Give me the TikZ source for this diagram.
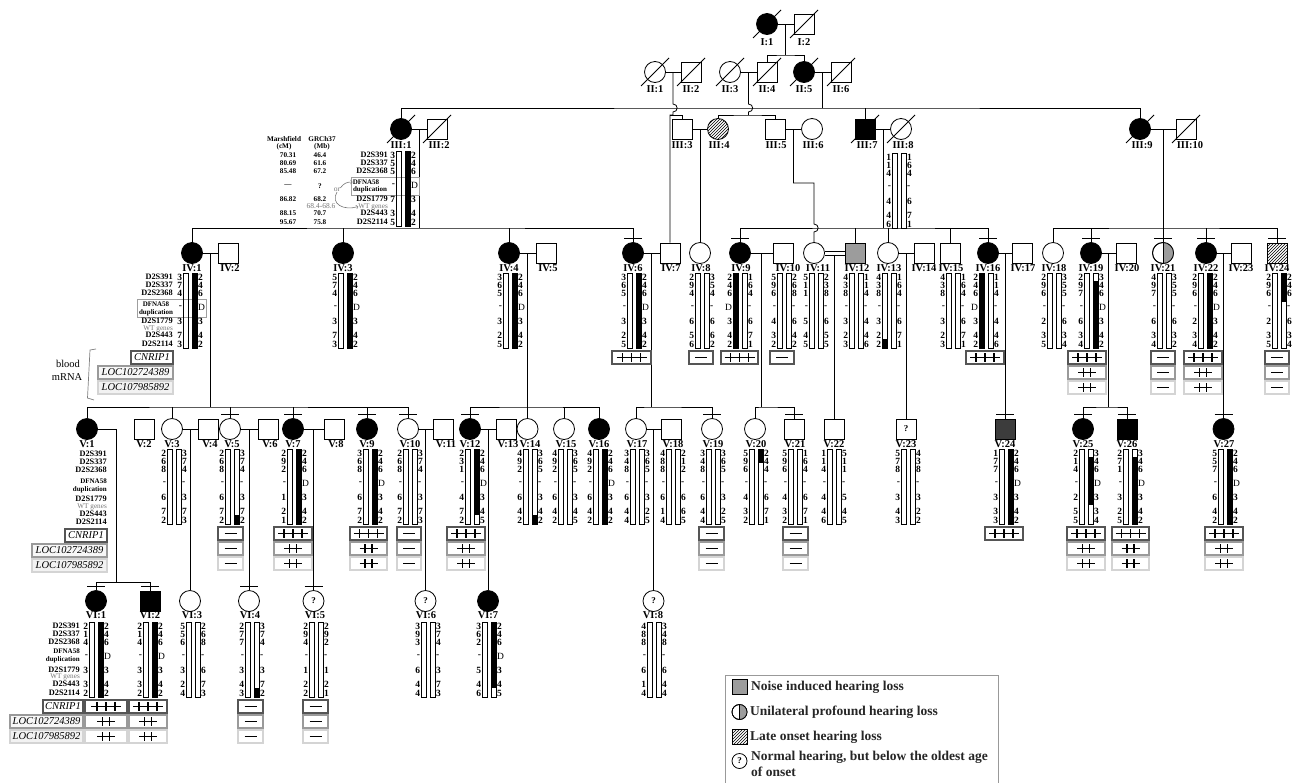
\documentclass[tikz,border=0pt]{standalone}
\usepackage{fontspec}
\setmainfont{Liberation Serif}
\usetikzlibrary{patterns,calc}
\definecolor{bxA}{HTML}{555555}
\definecolor{bxB}{HTML}{9A9A9A}
\definecolor{bxC}{HTML}{D4D4D4}
\definecolor{noisegray}{HTML}{9C9C9C}
\definecolor{darkaff}{HTML}{3C3C3C}
\definecolor{txtgray}{HTML}{777777}
\newcommand{\rowoff}[1]{\ifcase#1\or4\or12\or20\or34\or48\or62\or71\fi}
\newcommand{\Dd}{\textmd{D}}
\newcommand{\hap}[6]{%
  \foreach \a/\b in {#5}{\fill (#1,#2+\a) rectangle (#1+5,#2+\b);}%
  \foreach \a/\b in {#6}{\fill (#1+9,#2+\a) rectangle (#1+14,#2+\b);}%
  \draw[hbar] (#1,#2) rectangle (#1+5,#2+75);%
  \draw[hbar] (#1+9,#2) rectangle (#1+14,#2+75);%
  \foreach \v [count=\i] in {#3}{\edef\ro{\rowoff{\i}}\pgfmathsetmacro\yy{#2+\ro}\node[numL] (hl#1x\i) at (#1-0.8,\yy) {\v};}%
  \foreach \v [count=\i] in {#4}{\edef\ro{\rowoff{\i}}\pgfmathsetmacro\yy{#2+\ro}\node[numR] (hr#1x\i) at (#1+14.8,\yy) {\v};}%
}
\newcommand{\sgn}[3]{%
  \ifcase#1\relax
    \draw[sg] (#2-6,#3) -- (#2+6,#3);%
  \or\or
    \draw[sg] (#2-9,#3) -- (#2+9,#3) (#2-3.5,#3-4.5) -- (#2-3.5,#3+4.5) (#2+3.5,#3-4.5) -- (#2+3.5,#3+4.5);%
  \or
    \draw[sg] (#2-15,#3) -- (#2+15,#3) (#2-9,#3-4.5) -- (#2-9,#3+4.5) (#2,#3-4.5) -- (#2,#3+4.5) (#2+9,#3-4.5) -- (#2+9,#3+4.5);%
  \fi}
\newcommand{\tbx}[5]{%
  \draw[#1] (#2,#4) rectangle (#3,#4+13);%
  \pgfmathsetmacro\cx{(#2+#3)/2}\pgfmathsetmacro\cy{#4+6.5}%
  \sgn{#5}{\cx}{\cy}}
\newcommand{\tri}[6]{\tbx{bA}{#1}{#2}{#3}{#4}\tbx{bB}{#1}{#2}{#3+15}{#5}\tbx{bC}{#1}{#2}{#3+30}{#6}}
\newcommand{\dead}[1]{\draw[ln] ([shift={(-14pt,-14pt)}]#1.center) -- ([shift={(14pt,14pt)}]#1.center);}
\newcommand{\tbar}[1]{\draw[ln] ([shift={(-9pt,4pt)}]#1.north) -- ([shift={(9pt,4pt)}]#1.north);}
\begin{document}
\begin{tikzpicture}[x=1pt,y=-1pt,
  ln/.style={line width=0.8pt},
  male/.style={draw, rectangle, minimum size=20pt, inner sep=0pt, line width=0.8pt},
  fem/.style={draw, circle, minimum size=21pt, inner sep=0pt, line width=0.8pt},
  aff/.style={fill=black},
  hatch/.style={pattern=north east lines},
  lab/.style={inner sep=0pt, font=\bfseries\fontsize{10.5}{10.5}\selectfont},
  numL/.style={anchor=east, inner sep=0pt, font=\bfseries\fontsize{9.5}{9.5}\selectfont},
  numR/.style={anchor=west, inner sep=0pt, font=\bfseries\fontsize{9.5}{9.5}\selectfont},
  mk/.style={anchor=east, inner sep=0pt, font=\bfseries\fontsize{8.3}{8.3}\selectfont},
  mks/.style={inner sep=0pt, font=\bfseries\fontsize{7}{7}\selectfont},
  wt/.style={anchor=east, inner sep=0pt, text=txtgray, font=\fontsize{7.2}{7.2}\selectfont},
  cmt/.style={inner sep=0pt, font=\bfseries\fontsize{7.2}{7.2}\selectfont},
  hbar/.style={draw, line width=0.6pt},
  bA/.style={draw=bxA, line width=1.6pt},
  bB/.style={draw=bxB, line width=1.6pt},
  bC/.style={draw=bxC, line width=1.6pt},
  sg/.style={line width=1.1pt},
  gA/.style={draw=bxA, line width=1.5pt},
  gB/.style={draw=bxB, line width=1.5pt, fill=gray!6},
  gC/.style={draw=bxC, line width=1.5pt, fill=gray!10},
  gt/.style={inner sep=0pt, font=\itshape\fontsize{10.5}{10.5}\selectfont},
  qm/.style={font=\bfseries\fontsize{9}{9}\selectfont},
  lgt/.style={anchor=west, inner sep=0pt, text=black!85, font=\bfseries\fontsize{13.5}{15.5}\selectfont},
  dupbox/.style={draw=gray!75, line width=0.8pt}
]
\useasboundingbox (0,0) rectangle (1292,782);
\fill[white] (0,0) rectangle (1292,782);

% ---------------- Generation I
\node[fem,aff] (I1) at (767,24) {};
\node[male] (I2) at (804,24) {};
\dead{I1}\dead{I2}
\node[lab] (lI1) at (767,42) {I:1};
\node[lab] (lI2) at (804,42) {I:2};

% ---------------- Generation II
\node[fem] (II1) at (655,72) {};
\node[male] (II2) at (691,72) {};
\node[fem] (II3) at (730,72) {};
\node[male] (II4) at (767,72) {};
\node[fem,aff] (II5) at (804,72) {};
\node[male] (II6) at (841,72) {};
\foreach \n in {II1,II2,II3,II4,II5,II6} {\dead{\n}}
\node[lab] (lII1) at (655,89) {II:1};
\node[lab] (lII2) at (691,89) {II:2};
\node[lab] (lII3) at (730,89) {II:3};
\node[lab] (lII4) at (767,89) {II:4};
\node[lab] (lII5) at (804,89) {II:5};
\node[lab] (lII6) at (841,89) {II:6};

% ---------------- Generation III
\node[fem,aff] (III1) at (401,129) {};
\node[male] (III2) at (437,129) {};
\node[male] (III3) at (682,129) {};
\node[fem,hatch] (III4) at (718,129) {};
\node[male] (III5) at (775,129) {};
\node[fem] (III6) at (812,129) {};
\node[male,aff] (III7) at (865,129) {};
\node[fem] (III8) at (901,129) {};
\node[fem,aff] (III9) at (1140,129) {};
\node[male] (III10) at (1186,129) {};
\foreach \n in {III1,III2,III7,III8,III9,III10} {\dead{\n}}
\node[lab] (lIII1) at (401,145) {III:1};
\node[lab] (lIII2) at (439,145) {III:2};
\node[lab] (lIII3) at (682,145) {III:3};
\node[lab] (lIII4) at (719,145) {III:4};
\node[lab] (lIII5) at (776,145) {III:5};
\node[lab] (lIII6) at (813,145) {III:6};
\node[lab] (lIII7) at (867,145) {III:7};
\node[lab] (lIII8) at (903,145) {III:8};
\node[lab] (lIII9) at (1142,145) {III:9};
\node[lab] (lIII10) at (1190,145) {III:10};

% ---------------- Generation IV
\node[fem,aff] (IV1) at (192,253) {};
\node[male] (IV2) at (228,253) {};
\node[fem,aff] (IV3) at (343,253) {};
\node[fem,aff] (IV4) at (509,253) {};
\node[male] (IV5) at (546,253) {};
\node[fem,aff] (IV6) at (633,253) {};
\node[male] (IV7) at (670,253) {};
\node[fem] (IV8) at (700,253) {};
\node[fem,aff] (IV9) at (740,253) {};
\node[male] (IV10) at (783,253) {};
\node[fem] (IV11) at (814,253) {};
\node[male,fill=noisegray] (IV12) at (855,253) {};
\node[fem] (IV13) at (888,253) {};
\node[male] (IV14) at (924,253) {};
\node[male] (IV15) at (950,253) {};
\node[fem,aff] (IV16) at (988,253) {};
\node[male] (IV17) at (1022,253) {};
\node[fem] (IV18) at (1053,253) {};
\node[fem,aff] (IV19) at (1091,253) {};
\node[male] (IV20) at (1126,253) {};
\node[fem] (IV21) at (1163,253) {};
\node[fem,aff] (IV22) at (1206,253) {};
\node[male] (IV23) at (1241,253) {};
\node[male,hatch] (IV24) at (1277,253) {};
\begin{scope}
  \clip (IV21.north) rectangle ([xshift=12pt]IV21.south);
  \fill[noisegray] (IV21.center) circle (10.5pt);
\end{scope}
\draw[line width=0.8pt] (IV21.center) circle (10.5pt);
\draw[ln] (IV21.north) -- (IV21.south);
\foreach \n/\x/\t in {IV1/192/IV:1,IV2/230/IV:2,IV3/343/IV:3,IV4/509/IV:4,IV5/548/IV:5,IV6/633/IV:6,IV7/671/IV:7,IV8/701/IV:8,IV9/741/IV:9,IV10/788/IV:10,IV11/818/IV:11,IV12/857/IV:12,IV13/889/IV:13,IV14/924/IV:14,IV15/951/IV:15,IV16/988/IV:16,IV17/1023/IV:17,IV18/1054/IV:18,IV19/1091/IV:19,IV20/1127/IV:20,IV21/1163/IV:21,IV22/1206/IV:22,IV23/1241/IV:23,IV24/1277/IV:24}
  {\node[lab] (l\n) at (\x,268) {\t};}

% ---------------- Generation V
\node[fem,aff] (V1) at (87,429) {};
\node[male] (V2) at (144,429) {};
\node[fem] (V3) at (172,429) {};
\node[male] (V4) at (208,429) {};
\node[fem] (V5) at (230,429) {};
\node[male] (V6) at (268,429) {};
\node[fem,aff] (V7) at (293,429) {};
\node[male] (V8) at (334,429) {};
\node[fem,aff] (V9) at (367,429) {};
\node[fem] (V10) at (408,429) {};
\node[male] (V11) at (443,429) {};
\node[fem,aff] (V12) at (470,429) {};
\node[male] (V13) at (506,429) {};
\node[fem] (V14) at (527.5,429) {};
\node[fem] (V15) at (564,429) {};
\node[fem,aff] (V16) at (599,429) {};
\node[fem] (V17) at (636,429) {};
\node[male] (V18) at (671,429) {};
\node[fem] (V19) at (712,429) {};
\node[fem] (V20) at (755,429) {};
\node[male] (V21) at (794,429) {};
\node[male] (V22) at (834.5,429) {};
\node[male,qm] (V23) at (906,429) {?};
\node[male,fill=darkaff] (V24) at (1005,429) {};
\node[fem,aff] (V25) at (1083,429) {};
\node[male,aff] (V26) at (1127,429) {};
\node[fem,aff] (V27) at (1223.5,429) {};
\foreach \n/\x/\t in {V1/87/V:1,V2/144/V:2,V3/172/V:3,V4/210/V:4,V5/232/V:5,V6/270/V:6,V7/293/V:7,V8/336/V:8,V9/367/V:9,V10/410/V:10,V11/446/V:11,V12/470/V:12,V13/508/V:13,V14/530/V:14,V15/566/V:15,V16/599/V:16,V17/637/V:17,V18/673/V:18,V19/713/V:19,V20/756/V:20,V21/795/V:21,V22/834/V:22,V23/906/V:23,V24/1005/V:24,V25/1083/V:25,V26/1127/V:26,V27/1224/V:27}
  {\node[lab] (l\n) at (\x,444) {\t};}

% ---------------- Generation VI
\node[fem,aff] (VI1) at (96,601) {};
\node[male,aff] (VI2) at (150,601) {};
\node[fem] (VI3) at (190,601) {};
\node[fem] (VI4) at (249,601) {};
\node[fem,qm] (VI5) at (313.5,601) {?};
\node[fem,qm] (VI6) at (425.5,601) {?};
\node[fem,aff] (VI7) at (488,601) {};
\node[fem,qm] (VI8) at (653.5,601) {?};
\foreach \n/\x/\t in {VI1/96/VI:1,VI2/150/VI:2,VI3/192/VI:3,VI4/250/VI:4,VI5/315/VI:5,VI6/426/VI:6,VI7/488/VI:7,VI8/653/VI:8}
  {\node[lab] (l\n) at (\x,615) {\t};}

% ---------------- examined bars
\foreach \n in {IV6,IV9,IV16,IV19,IV21,IV22,IV24,V5,V7,V9,V10,V12,V19,V21,V24,V25,V26,V27,VI1,VI2,VI4,VI5} {\tbar{\n}}

% ---------------- Connectors
\coordinate (sIII) at (0,108);
\coordinate (sIIIb) at (0,115);
\coordinate (sIV) at (0,228);
\coordinate (sV) at (0,407);
\coordinate (sVI) at (0,582);
% I
\draw[ln] (I1) -- (I2);
\coordinate (mI) at ($(I1)!0.5!(I2)$);
\draw[ln] (mI) -- ++(0,31) coordinate (sII);
\draw[ln] (II4.north) |- (sII) -| (II5.north);
% II
\draw[ln] (II1) -- (II2);
\draw[ln] (II3) -- (II4);
\draw[ln] (II5) -- (II6);
\coordinate (mII12) at ($(II1)!0.5!(II2)$);
\coordinate (mII34) at ($(II3)!0.5!(II4)$);
\coordinate (mII56) at ($(II5)!0.5!(II6)$);
\coordinate (kII12) at (670,115);
\draw[ln] (mII56) -- (mII56 |- sIII);
\draw[ln] (III1.north) |- (mII56 |- sIII) -| (III9.north);
\draw[ln] (III7.north) -- (III7.north |- sIII);
\draw[ln] (mII12) -- ($(mII12 |- sIII)+(0,-4)$) .. controls +(5.5,0) and +(5.5,0) .. ($(mII12 |- sIII)+(0,4)$) -- (mII12 |- kII12) -- (kII12) -- (kII12 |- IV7.north);
\draw[ln] (kII12) -| (III3.north);
\draw[ln] (mII34) -- ($(mII34 |- sIII)+(0,-4)$) .. controls +(5.5,0) and +(5.5,0) .. ($(mII34 |- sIII)+(0,4)$) -- (mII34 |- sIIIb);
\draw[ln] (III4.north) |- (mII34 |- sIIIb) -| (III5.north);
% III
\draw[ln] (III1) -- (III2);
\draw[ln] (III3) -- (III4);
\draw[ln] (III5) -- (III6);
\draw[ln] (III7) -- (III8);
\draw[ln] (III9) -- (III10);
\coordinate (mIII12) at ($(III1)!0.5!(III2)$);
\coordinate (mIII34) at ($(III3)!0.5!(III4)$);
\coordinate (mIII56) at ($(III5)!0.5!(III6)$);
\coordinate (mIII78) at ($(III7)!0.5!(III8)$);
\coordinate (mIII910) at ($(III9)!0.5!(III10)$);
\draw[ln] (mIII12) -- (mIII12 |- sIV);
\draw[ln] (IV1.north) |- (mIII12 |- sIV) -| (IV6.north);
\foreach \n in {IV3,IV4} {\draw[ln] (\n.north) -- (\n.north |- sIV);}
\draw[ln] (mIII34) -- (mIII34 |- IV8.north);
\draw[ln] (mIII56) -- ++(0,54) coordinate (j56) -- (j56 -| IV11) -- ($(IV11 |- sIV)+(0,-4)$) .. controls +(5.5,0) and +(5.5,0) .. ($(IV11 |- sIV)+(0,4)$) -- (IV11.north);
\draw[ln] (mIII78) -- (mIII78 |- sIV);
\draw[ln] (IV9.north) |- (mIII78 |- sIV) -| (IV16.north);
\foreach \n in {IV12,IV13,IV15} {\draw[ln] (\n.north) -- (\n.north |- sIV);}
\draw[ln] (mIII910) -- (mIII910 |- sIV);
\draw[ln] (IV18.north) |- (mIII910 |- sIV) -| (IV24.north);
\foreach \n in {IV19,IV21,IV22} {\draw[ln] (\n.north) -- (\n.north |- sIV);}
% IV
\foreach \a/\b in {IV1/IV2,IV4/IV5,IV6/IV7,IV9/IV10,IV13/IV14,IV16/IV17,IV19/IV20,IV22/IV23} {\draw[ln] (\a) -- (\b);}
\draw[ln] ([yshift=2pt]IV11.east) -- ([yshift=2pt]IV12.west);
\draw[ln] ([yshift=-2pt]IV11.east) -- ([yshift=-2pt]IV12.west);
\coordinate (mIV12) at ($(IV1)!0.5!(IV2)$);
\coordinate (mIV45) at ($(IV4)!0.5!(IV5)$);
\coordinate (mIV67) at ($(IV6)!0.5!(IV7)$);
\coordinate (mIV910) at ($(IV9)!0.5!(IV10)$);
\coordinate (mIV1112) at ($(IV11)!0.5!(IV12)+(0,2)$);
\coordinate (mIV1314) at ($(IV13)!0.5!(IV14)$);
\coordinate (mIV1617) at ($(IV16)!0.5!(IV17)$);
\coordinate (mIV1920) at ($(IV19)!0.5!(IV20)$);
\coordinate (mIV2223) at ($(IV22)!0.5!(IV23)$);
\draw[ln] (mIV12) -- (mIV12 |- sV);
\draw[ln] (V1.north) |- (mIV12 |- sV) -| (V10.north);
\foreach \n in {V3,V5,V7,V9} {\draw[ln] (\n.north) -- (\n.north |- sV);}
\draw[ln] (mIV45) -- (mIV45 |- sV);
\draw[ln] (V12.north) |- (mIV45 |- sV) -| (V16.north);
\foreach \n in {V14,V15} {\draw[ln] (\n.north) -- (\n.north |- sV);}
\draw[ln] (mIV67) -- (mIV67 |- sV);
\draw[ln] (V17.north) |- (mIV67 |- sV) -| (V19.north);
\draw[ln] (mIV910) -- (mIV910 |- sV);
\draw[ln] (V20.north) |- (mIV910 |- sV) -| (V21.north);
\draw[ln] (mIV1112) -- (V22.north);
\draw[ln] (mIV1314) -- (V23.north);
\draw[ln] (mIV1617) -- (V24.north);
\draw[ln] (mIV1920) -- (mIV1920 |- sV);
\draw[ln] (V25.north) |- (mIV1920 |- sV) -| (V26.north);
\draw[ln] (mIV2223) -- (V27.north);
% V
\coordinate (jV1) at (116,429);
\draw[ln] (V1) -- (jV1) -- (jV1 |- sVI);
\draw[ln] (VI1.north) |- (jV1 |- sVI) -| (VI2.north);
\foreach \a/\b/\c in {V3/V4/VI3,V5/V6/VI4,V7/V8/VI5,V10/V11/VI6,V12/V13/VI7,V17/V18/VI8}
  {\draw[ln] (\a) -- (\b); \draw[ln] ($(\a)!0.5!(\b)$) -- (\c.north);}

% ---------------- III:1 marker panel
\node[cmt] (hcm1) at (284,139) {Marshfield};
\node[cmt] (hcm2) at (284,146.5) {(cM)};
\node[cmt] (hmb1) at (322,139) {GRCh37};
\node[cmt] (hmb2) at (322,146.5) {(Mb)};
\foreach \y/\c/\m [count=\k] in {155/70.31/46.4,163/80.69/61.6,171/85.48/67.2,186/---/?,199/86.82/68.2,213/88.15/70.7,222/95.67/75.8}
  {\node[cmt] (cmv\k) at (288,\y) {\c}; \node[cmt] (mbv\k) at (320,\y) {\m};}
\node[cmt,text=txtgray,font=\fontsize{7.5}{7.5}\selectfont] (mbr) at (321,206) {68.4-68.6};
\node[mk] (a1) at (388,155) {D2S391};
\node[mk] (a2) at (388,163) {D2S337};
\node[mk] (a3) at (388,171) {D2S2368};
\draw[dupbox] (351,177) rectangle (419,195);
\node[mks] (a4) at (366,182) {DFNA58};
\node[mks] (a5) at (370,190) {duplication};
\node[mk] (a6) at (388,199) {D2S1779};
\node[wt] (a7) at (388,206.5) {WT genes};
\node[mk] (a8) at (388,213) {D2S443};
\node[mk] (a9) at (388,222) {D2S2114};
\node[inner sep=0pt,text=txtgray,font=\fontsize{7.5}{7.5}\selectfont] (orr) at (337,190) {or};
\draw[txtgray,line width=0.6pt,->] (orr.north east) .. controls (344,183) and (347,182) .. (a4.west);
\draw[txtgray,line width=0.6pt,->] (orr.south) .. controls (330,204) and (344,211) .. (a7.west);
\hap{396}{151}{3,5,5,-,7,3,5}{2,4,6,\Dd,3,4,2}{0/0}{0/75}
\hap{892}{153}{1,1,4,-,4,4,6}{1,6,4,-,6,7,1}{0/0}{0/0}

% ---------------- IV:1 marker panel
\node[mk] (b1) at (173,277) {D2S391};
\node[mk] (b2) at (173,285) {D2S337};
\node[mk] (b3) at (173,293) {D2S2368};
\draw[dupbox] (137,299) rectangle (206,317);
\node[mks] (b4) at (156,304) {DFNA58};
\node[mks] (b5) at (156,312.5) {duplication};
\node[mk] (b6) at (173,321) {D2S1779};
\node[wt] (b7) at (173,328.5) {WT genes};
\node[mk] (b8) at (173,335) {D2S443};
\node[mk] (b9) at (173,344) {D2S2114};
\draw[gA] (131,351) rectangle (173,364); \node[gt] (g1a) at (152,357.5) {CNRIP1};
\draw[gB] (98,366) rectangle (173,379); \node[gt] (g1b) at (135.5,372.5) {LOC102724389};
\draw[gC] (98,381) rectangle (173,394); \node[gt] (g1c) at (135.5,387.5) {LOC107985892};
\draw[line width=0.7pt,gray] (96,349) -- (90,350) -- (87.5,398) -- (94,400);
\node[inner sep=0pt,font=\fontsize{10.5}{10.5}\selectfont] (blood) at (68,364) {blood};
\node[inner sep=0pt,font=\fontsize{10.5}{10.5}\selectfont] (mrna) at (67,377) {mRNA};

% ---------------- Gen IV haplotypes
\hap{183}{273}{3,7,4,-,3,7,3}{2,4,6,\Dd,3,4,2}{0/0}{0/75}
\hap{338}{273}{5,7,4,-,3,7,3}{2,4,6,\Dd,3,4,2}{0/0}{0/75}
\hap{503}{273}{3,6,5,-,3,2,5}{2,4,6,\Dd,3,4,2}{0/0}{0/75}
\hap{627}{273}{3,6,5,-,3,2,5}{2,4,6,\Dd,3,4,2}{0/0}{0/75}
\hap{695}{273}{2,9,4,-,6,5,6}{3,5,4,-,6,6,2}{0/0}{0/0}
\hap{733}{273}{2,4,6,\Dd,3,4,2}{1,6,4,-,6,7,1}{0/75}{0/0}
\hap{777}{273}{5,9,6,-,4,3,2}{2,6,8,-,6,4,2}{0/0}{0/0}
\hap{809}{273}{5,1,1,-,5,4,5}{2,3,8,-,6,5,5}{0/0}{0/0}
\hap{849}{273}{4,3,8,-,3,2,3}{1,1,4,-,4,4,6}{0/0}{0/0}
\hap{882}{273}{4,3,8,-,3,2,2}{1,6,4,-,6,7,1}{66/75}{0/0}
\hap{946}{273}{4,3,8,-,3,2,3}{1,6,4,-,6,7,1}{0/0}{0/0}
\hap{979}{273}{2,4,6,\Dd,3,4,2}{1,1,4,-,4,4,6}{0/75}{0/0}
\hap{1047}{273}{2,9,6,-,2,3,5}{3,5,5,-,6,3,4}{0/0}{0/0}
\hap{1084}{273}{2,9,7,-,6,3,4}{3,4,6,\Dd,3,4,2}{0/0}{8/75}
\hap{1157}{273}{4,9,7,-,6,3,4}{3,5,5,-,6,3,2}{0/0}{0/0}
\hap{1198}{273}{2,9,6,-,2,3,4}{2,4,6,\Dd,3,4,2}{0/0}{0/75}
\hap{1272}{273}{2,9,6,-,2,3,5}{2,4,6,-,6,3,4}{0/0}{0/29}
% Gen IV test boxes
\tbx{bA}{612}{651}{351}{3}
\tbx{bA}{689}{713}{351}{0}
\tbx{bA}{721}{758}{351}{3}
\tbx{bA}{770}{794}{351}{0}
\tbx{bA}{966}{1004}{351}{3}
\tri{1068}{1106}{351}{3}{2}{2}
\tri{1151}{1175}{351}{0}{0}{0}
\tri{1184}{1222}{351}{3}{2}{2}
\tri{1265}{1289}{351}{0}{0}{0}

% ---------------- V:1 marker panel
\node[mk] (c1) at (107,454) {D2S391};
\node[mk] (c2) at (107,462) {D2S337};
\node[mk] (c3) at (107,470) {D2S2368};
\node[mks,anchor=east] (c4) at (107,481) {DFNA58};
\node[mks,anchor=east] (c5) at (107,490) {duplication};
\node[mk] (c6) at (107,499) {D2S1779};
\node[wt] (c7) at (107,506.5) {WT genes};
\node[mk] (c8) at (107,514) {D2S443};
\node[mk] (c9) at (107,522) {D2S2114};
\draw[gA] (65,529) rectangle (107,542); \node[gt] (g2a) at (86,535.5) {CNRIP1};
\draw[gB] (32,544) rectangle (107,557); \node[gt] (g2b) at (69.5,550.5) {LOC102724389};
\draw[gC] (32,559) rectangle (107,572); \node[gt] (g2c) at (69.5,565.5) {LOC107985892};

% ---------------- Gen V haplotypes
\hap{167}{449}{2,6,8,-,6,7,2}{3,7,4,-,3,7,3}{0/0}{0/0}
\hap{225}{449}{2,6,8,-,6,7,2}{3,7,4,-,3,7,2}{0/0}{66/75}
\hap{287}{449}{2,9,2,-,1,2,1}{2,4,6,\Dd,3,4,2}{0/0}{0/75}
\hap{363}{449}{3,6,8,-,6,7,2}{2,4,6,\Dd,3,4,2}{0/0}{0/75}
\hap{403}{449}{2,6,8,-,6,7,2}{3,7,4,-,3,7,3}{0/0}{0/0}
\hap{465}{449}{2,3,1,-,4,7,2}{2,4,6,\Dd,3,4,5}{0/0}{0/66}
\hap{523}{449}{4,9,2,-,6,4,2}{3,6,5,-,3,4,2}{0/0}{66/75}
\hap{558}{449}{4,9,2,-,6,4,2}{3,6,5,-,3,4,5}{0/0}{0/0}
\hap{593}{449}{4,9,2,-,6,4,2}{2,4,6,\Dd,3,4,2}{0/0}{0/75}
\hap{630}{449}{3,4,8,-,6,4,4}{3,6,5,-,3,2,5}{0/0}{0/0}
\hap{666}{449}{4,8,8,-,6,1,4}{2,1,2,-,6,6,5}{0/0}{0/0}
\hap{706}{449}{3,4,8,-,6,4,4}{3,6,5,-,3,2,5}{0/0}{0/0}
\hap{749}{449}{5,9,6,-,4,3,2}{2,4,4,-,6,7,1}{0/0}{0/14}
\hap{788}{449}{5,9,6,-,4,3,2}{1,6,4,-,6,7,1}{0/0}{0/0}
\hap{827}{449}{1,1,4,-,4,4,6}{5,1,1,-,5,4,5}{0/0}{0/0}
\hap{901}{449}{5,7,8,-,3,4,3}{4,3,8,-,3,2,2}{0/0}{0/0}
\hap{999}{449}{1,7,7,-,3,3,3}{2,4,6,\Dd,3,4,2}{0/0}{0/75}
\hap{1079}{449}{2,1,4,-,2,5,5}{3,4,6,\Dd,3,3,4}{0/0}{8/56}
\hap{1123}{449}{2,7,1,-,3,2,5}{3,4,6,\Dd,3,4,2}{0/0}{8/75}
\hap{1218}{449}{5,5,7,-,6,4,2}{2,4,6,\Dd,3,4,2}{0/0}{0/75}
% Gen V test boxes
\tri{218}{243}{527}{0}{0}{0}
\tri{274}{312}{527}{3}{2}{2}
\tri{350}{387}{527}{3}{2}{2}
\tri{397}{421}{527}{0}{0}{0}
\tri{447}{485}{527}{3}{2}{2}
\tri{699}{724}{527}{0}{0}{0}
\tri{783}{808}{527}{0}{0}{0}
\tbx{bA}{985}{1023}{527}{3}
\tri{1067}{1105}{527}{3}{2}{2}
\tri{1112}{1149}{527}{3}{2}{2}
\tri{1205}{1243}{527}{3}{2}{2}

% ---------------- VI:1 marker panel
\node[mk] (d1) at (80,626) {D2S391};
\node[mk] (d2) at (80,634) {D2S337};
\node[mk] (d3) at (80,642) {D2S2368};
\node[mks,anchor=east] (d4) at (80,651.5) {DFNA58};
\node[mks,anchor=east] (d5) at (80,660) {duplication};
\node[mk] (d6) at (80,670) {D2S1779};
\node[wt] (d7) at (80,677) {WT genes};
\node[mk] (d8) at (80,684) {D2S443};
\node[mk] (d9) at (80,693) {D2S2114};
\draw[gA] (43,700) rectangle (83,713); \node[gt] (g3a) at (63,706.5) {CNRIP1};
\draw[gB] (10,715) rectangle (83,728); \node[gt] (g3b) at (46.5,721.5) {LOC102724389};
\draw[gC] (10,730) rectangle (83,743); \node[gt] (g3c) at (46.5,736.5) {LOC107985892};

% ---------------- Gen VI haplotypes
\hap{89}{622}{2,1,4,-,3,3,2}{2,4,6,\Dd,3,4,2}{0/0}{0/75}
\hap{143}{622}{2,1,4,-,3,3,2}{2,4,6,\Dd,3,4,2}{0/0}{0/75}
\hap{186}{622}{5,5,6,-,3,2,4}{2,6,8,-,6,7,3}{0/0}{0/0}
\hap{245}{622}{2,7,7,-,3,4,3}{3,7,4,-,3,7,2}{0/0}{66/75}
\hap{309}{622}{2,9,4,-,1,2,2}{2,9,2,-,1,2,1}{0/0}{0/0}
\hap{421}{622}{3,9,3,-,6,4,4}{3,7,4,-,3,7,3}{0/0}{0/0}
\hap{482}{622}{3,6,2,-,5,4,6}{2,4,6,\Dd,3,4,5}{0/0}{0/66}
\hap{647}{622}{4,8,8,-,6,1,4}{3,4,8,-,6,4,4}{0/0}{0/0}
% Gen VI test boxes
\tri{85}{127}{700}{3}{2}{2}
\tri{129}{167}{700}{3}{2}{2}
\tri{238}{263}{700}{0}{0}{0}
\tri{303}{328}{700}{0}{0}{0}

% ---------------- Legend
\draw[draw=gray!80, line width=0.9pt] (725,675) rectangle (998,800);
\node[male, fill=noisegray, minimum size=15pt] (lg1) at (739.5,687) {};
\node[lgt] (lt1) at (751,687) {Noise induced hearing loss};
\node[fem, minimum size=15pt] (lg2) at (739.5,712) {};
\begin{scope}
  \clip (739.5,703) rectangle (749,721);
  \fill[noisegray] (lg2.center) circle (7.5pt);
\end{scope}
\draw[line width=0.8pt] (lg2.center) circle (7.5pt);
\draw[ln] (lg2.north) -- (lg2.south);
\node[lgt] (lt2) at (750,712) {Unilateral profound hearing loss};
\node[male, hatch, minimum size=15pt] (lg3) at (739.5,737) {};
\node[lgt] (lt3) at (750,737) {Late onset hearing loss};
\node[fem, minimum size=15pt, qm] (lg4) at (739.5,761) {?};
\node[lgt, anchor=north west, align=left] (lt4) at (751,751) {Normal hearing, but below the oldest age\\of onset};
\end{tikzpicture}
\end{document}
